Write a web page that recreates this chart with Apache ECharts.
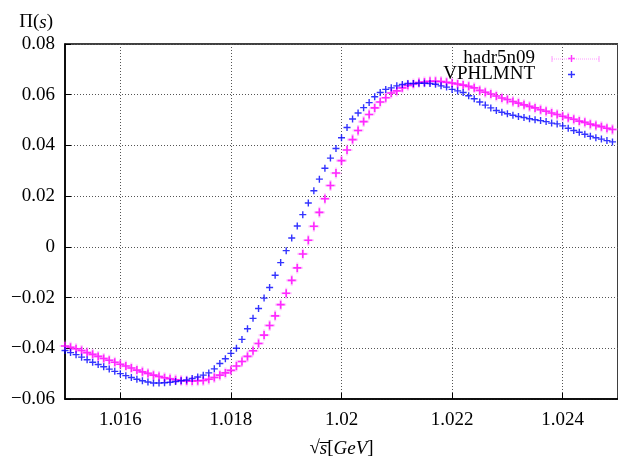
<!DOCTYPE html>
<html>
<head>
<meta charset="utf-8">
<script src="https://cdn.jsdelivr.net/npm/echarts@6/dist/echarts.min.js"></script>
<style>
html,body{margin:0;padding:0;background:#fff;}
#main{width:618px;height:463px;}
</style>
</head>
<body>
<div id="main"></div>
<script>
// sqrt(s) sample points, GeV
const xs = [
  1.0150, 1.0151, 1.0152, 1.0153, 1.0154, 1.0155, 1.0156, 1.0157, 1.0158, 1.0159,
  1.0160, 1.0161, 1.0162, 1.0163, 1.0164, 1.0165, 1.0166, 1.0167, 1.0168, 1.0169,
  1.0170, 1.0171, 1.0172, 1.0173, 1.0174, 1.0175, 1.0176, 1.0177, 1.0178, 1.0179,
  1.0180, 1.0181, 1.0182, 1.0183, 1.0184, 1.0185, 1.0186, 1.0187, 1.0188, 1.0189,
  1.0190, 1.0191, 1.0192, 1.0193, 1.0194, 1.0195, 1.0196, 1.0197, 1.0198, 1.0199,
  1.0200, 1.0201, 1.0202, 1.0203, 1.0204, 1.0205, 1.0206, 1.0207, 1.0208, 1.0209,
  1.0210, 1.0211, 1.0212, 1.0213, 1.0214, 1.0215, 1.0216, 1.0217, 1.0218, 1.0219,
  1.0220, 1.0221, 1.0222, 1.0223, 1.0224, 1.0225, 1.0226, 1.0227, 1.0228, 1.0229,
  1.0230, 1.0231, 1.0232, 1.0233, 1.0234, 1.0235, 1.0236, 1.0237, 1.0238, 1.0239,
  1.0240, 1.0241, 1.0242, 1.0243, 1.0244, 1.0245, 1.0246, 1.0247, 1.0248, 1.0249
];
// hadr5n09
const hadr = [
  -0.0391, -0.0396, -0.0402, -0.0409, -0.0417, -0.0424, -0.0432, -0.0440, -0.0447, -0.0455,
  -0.0463, -0.0470, -0.0478, -0.0486, -0.0493, -0.0499, -0.0506, -0.0511, -0.0516, -0.0520,
  -0.0524, -0.0527, -0.0529, -0.0529, -0.0528, -0.0527, -0.0522, -0.0515, -0.0506, -0.0497,
  -0.0487, -0.0470, -0.0452, -0.0432, -0.0410, -0.0381, -0.0348, -0.0310, -0.0272, -0.0228,
  -0.0183, -0.0132, -0.0083, -0.0028, 0.0026, 0.0081, 0.0136, 0.0190, 0.0242, 0.0291,
  0.0340, 0.0382, 0.0423, 0.0459, 0.0494, 0.0522, 0.0548, 0.0571, 0.0588, 0.0607,
  0.0615, 0.0627, 0.0637, 0.0642, 0.0648, 0.0650, 0.0653, 0.0653, 0.0652, 0.0649,
  0.0646, 0.0642, 0.0638, 0.0633, 0.0627, 0.0617, 0.0610, 0.0603, 0.0595, 0.0587,
  0.0581, 0.0573, 0.0567, 0.0560, 0.0554, 0.0548, 0.0541, 0.0535, 0.0528, 0.0522,
  0.0515, 0.0509, 0.0503, 0.0496, 0.0491, 0.0484, 0.0479, 0.0474, 0.0468, 0.0463
];
// VPHLMNT
const vph = [
  -0.0409, -0.0417, -0.0425, -0.0435, -0.0445, -0.0455, -0.0464, -0.0473, -0.0482, -0.0491,
  -0.0500, -0.0508, -0.0515, -0.0522, -0.0528, -0.0533, -0.0537, -0.0537, -0.0536, -0.0534,
  -0.0531, -0.0528, -0.0525, -0.0519, -0.0513, -0.0506, -0.0497, -0.0481, -0.0460, -0.0441,
  -0.0420, -0.0400, -0.0365, -0.0323, -0.0282, -0.0243, -0.0202, -0.0160, -0.0112, -0.0062,
  -0.0015, 0.0035, 0.0082, 0.0127, 0.0173, 0.0221, 0.0267, 0.0310, 0.0350, 0.0388,
  0.0430, 0.0471, 0.0504, 0.0528, 0.0549, 0.0569, 0.0592, 0.0609, 0.0621, 0.0627,
  0.0635, 0.0640, 0.0644, 0.0644, 0.0645, 0.0645, 0.0644, 0.0641, 0.0635, 0.0630,
  0.0621, 0.0615, 0.0609, 0.0596, 0.0584, 0.0571, 0.0559, 0.0548, 0.0538, 0.0531,
  0.0525, 0.0519, 0.0514, 0.0510, 0.0505, 0.0501, 0.0498, 0.0494, 0.0488, 0.0485,
  0.0477, 0.0468, 0.0459, 0.0452, 0.0444, 0.0436, 0.0430, 0.0425, 0.0419, 0.0414
];
const xTicks = [1.016, 1.018, 1.02, 1.022, 1.024];
const seriesNames = ['hadr5n09', 'VPHLMNT'];

const font = 'Liberation Serif';
const plus = 'path://M0,4H4V0H6V4H10V6H6V10H4V6H0Z';

function pairs(ys) {
  return xs.map((x, i) => [x, ys[i]]);
}

let myChart = echarts.init(document.getElementById('main'), null, { renderer: 'canvas' });

let option = {
  animation: false,
  backgroundColor: '#fff',
  grid: {
    left: 65,
    right: -2,
    top: 44,
    bottom: 56,
    show: true,
    borderColor: '#000',
    borderWidth: 1.5
  },
  legend: {
    data: [
      { name: seriesNames[0], icon: plus },
      { name: seriesNames[1], icon: plus }
    ],
    orient: 'vertical',
    right: 38,
    top: 44,
    align: 'right',
    itemGap: -3,
    itemWidth: 7,
    itemHeight: 7,
    textStyle: {
      fontFamily: font,
      fontSize: 19,
      color: '#000',
      lineHeight: 16,
      padding: [0, 28, 0, 0]
    }
  },
  xAxis: {
    type: 'value',
    min: 1.015,
    max: 1.025,
    name: '{r|√}{i|s̅}{r|[}{i|GeV}{r|]}',
    nameLocation: 'middle',
    nameGap: 40,
    nameTextStyle: {
      rich: {
        r: { fontFamily: font, fontSize: 19, color: '#000' },
        i: { fontFamily: font, fontSize: 19, fontStyle: 'italic', color: '#000' }
      }
    },
    axisLine: { show: true, onZero: false, lineStyle: { color: '#000', width: 1.5 } },
    axisTick: { show: true, inside: true, length: 6, customValues: xTicks, lineStyle: { color: '#000' } },
    axisLabel: {
      customValues: xTicks,
      margin: 12,
      fontFamily: font,
      fontSize: 19,
      color: '#000',
      formatter: v => String(+(+v).toFixed(3))
    },
    splitLine: { show: true, lineStyle: { color: '#555', type: [1, 2], width: 1 } }
  },
  yAxis: {
    type: 'value',
    min: -0.06,
    max: 0.08,
    interval: 0.02,
    name: '{r|Π(}{i|s}{r|)}',
    nameLocation: 'end',
    nameGap: 12,
    nameTextStyle: {
      align: 'right',
      padding: [0, 12, 0, 0],
      rich: {
        r: { fontFamily: font, fontSize: 19, color: '#000' },
        i: { fontFamily: font, fontSize: 19, fontStyle: 'italic', color: '#000' }
      }
    },
    axisLine: { show: true, onZero: false, lineStyle: { color: '#000', width: 1.5 } },
    axisTick: { show: true, inside: true, length: 6, lineStyle: { color: '#000' } },
    axisLabel: {
      margin: 10,
      fontFamily: font,
      fontSize: 19,
      color: '#000',
      formatter: v => {
        let s = (+v).toFixed(2);
        if (Math.abs(v) < 1e-9) return '0';
        return s.replace('-', '\u2212');
      }
    },
    splitLine: { show: true, lineStyle: { color: '#555', type: [1, 2], width: 1 } }
  },
  graphic: [
    {
      type: 'line',
      shape: { x1: 552, y1: 59, x2: 599, y2: 59 },
      style: { stroke: '#ff9cff', lineWidth: 1, lineDash: [1, 1] },
      z: 10
    },
    {
      type: 'line',
      shape: { x1: 552, y1: 56, x2: 552, y2: 62 },
      style: { stroke: '#ff9cff', lineWidth: 1 },
      z: 10
    },
    {
      type: 'line',
      shape: { x1: 599, y1: 56, x2: 599, y2: 62 },
      style: { stroke: '#ff9cff', lineWidth: 1 },
      z: 10
    }
  ],
  series: [
    {
      name: 'halo',
      type: 'scatter',
      data: pairs(hadr),
      symbol: plus,
      symbolSize: 11,
      itemStyle: { color: '#ff66ff', opacity: 0.35 },
      z: 2,
      silent: true
    },
    {
      name: seriesNames[0],
      type: 'scatter',
      data: pairs(hadr),
      symbol: plus,
      symbolSize: 8,
      itemStyle: { color: '#ff00ff' },
      z: 3
    },
    {
      name: seriesNames[1],
      type: 'scatter',
      data: pairs(vph),
      symbol: plus,
      symbolSize: 7,
      itemStyle: { color: '#0000ff' },
      z: 4
    }
  ]
};

myChart.setOption(option);
</script>
</body>
</html>
